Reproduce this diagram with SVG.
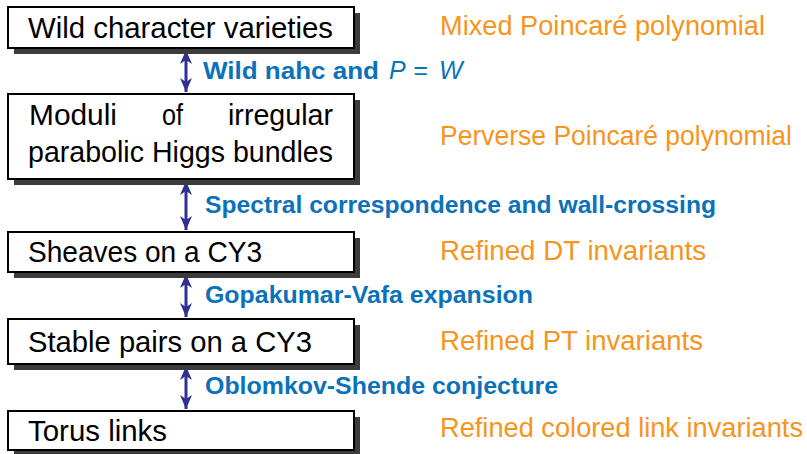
<svg xmlns="http://www.w3.org/2000/svg" width="807" height="454" viewBox="0 0 807 454">
  <style>
    .shadow { fill: #3c3c3c; }
    .box { fill: #ffffff; stroke: #000000; stroke-width: 2; }
    .name { font-family: "Liberation Sans", Arial, sans-serif; font-size: 30px; fill: #000000; }
    .inv { font-family: "Liberation Sans", Arial, sans-serif; font-size: 27px; fill: #F7941E; }
    .lbl { font-family: "Liberation Sans", Arial, sans-serif; font-size: 23.5px; font-weight: bold; fill: #0B72BA; }
    .math { font-family: "Liberation Sans", Arial, sans-serif; font-size: 25px; font-style: italic; font-weight: normal; fill: #0B72BA; }
    .link { stroke: #2E3192; stroke-width: 3; fill: none; marker-start: url(#head); marker-end: url(#head); }
  </style>
  <defs>
    <marker id="head" viewBox="0 0 14 12" markerUnits="userSpaceOnUse" markerWidth="14" markerHeight="12" refX="14" refY="6" orient="auto-start-reverse">
      <path d="M0,0 L14,6 L0,12 L4,6 z" fill="#2E3192"/>
    </marker>
  </defs>

  <!-- double-headed links between the stacked frames, with their labels -->
  <g id="connectors">
    <line class="link" x1="186" y1="50" x2="186" y2="92"/>
    <line class="link" x1="186" y1="181" x2="186" y2="230"/>
    <line class="link" x1="186" y1="274" x2="186" y2="317"/>
    <line class="link" x1="186" y1="366" x2="186" y2="409"/>
    <text class="lbl" x="203" y="79" textLength="176" lengthAdjust="spacingAndGlyphs">Wild nahc and</text>
    <text class="math" x="389" y="79">P</text>
    <text class="math" x="413" y="79" font-style="normal">=</text>
    <text class="math" x="439" y="79">W</text>
    <text class="lbl" x="205" y="213" textLength="511" lengthAdjust="spacingAndGlyphs">Spectral correspondence and wall-crossing</text>
    <text class="lbl" x="205" y="303" textLength="328" lengthAdjust="spacingAndGlyphs">Gopakumar-Vafa expansion</text>
    <text class="lbl" x="205" y="394" textLength="353" lengthAdjust="spacingAndGlyphs">Oblomkov-Shende conjecture</text>
  </g>

  <!-- frames: white box with offset drop shadow, and the invariant on the right -->
  <g id="wild-character-varieties">
    <rect class="shadow" x="14" y="13" width="346" height="41"/>
    <rect class="box" x="8" y="7" width="346" height="41"/>
    <text class="name" x="28" y="38" textLength="305" lengthAdjust="spacingAndGlyphs">Wild character varieties</text>
    <text class="inv" x="440" y="35" textLength="325" lengthAdjust="spacingAndGlyphs">Mixed Poincaré polynomial</text>
  </g>

  <g id="higgs-moduli">
    <rect class="shadow" x="14" y="100" width="346" height="85"/>
    <rect class="box" x="8" y="94" width="346" height="85"/>
    <text class="name" x="29" y="125" textLength="88" lengthAdjust="spacingAndGlyphs">Moduli</text>
    <text class="name" x="162" y="125" textLength="21" lengthAdjust="spacingAndGlyphs">of</text>
    <text class="name" x="228" y="125" textLength="105" lengthAdjust="spacingAndGlyphs">irregular</text>
    <text class="name" x="28" y="162" textLength="305" lengthAdjust="spacingAndGlyphs">parabolic Higgs bundles</text>
    <text class="inv" x="440" y="145" textLength="352" lengthAdjust="spacingAndGlyphs">Perverse Poincaré polynomial</text>
  </g>

  <g id="sheaves-cy3">
    <rect class="shadow" x="14" y="238" width="346" height="40"/>
    <rect class="box" x="8" y="232" width="346" height="40"/>
    <text class="name" x="28" y="262" textLength="234" lengthAdjust="spacingAndGlyphs">Sheaves on a CY3</text>
    <text class="inv" x="440" y="260" textLength="266" lengthAdjust="spacingAndGlyphs">Refined DT invariants</text>
  </g>

  <g id="stable-pairs-cy3">
    <rect class="shadow" x="14" y="325" width="346" height="45"/>
    <rect class="box" x="8" y="319" width="346" height="45"/>
    <text class="name" x="28" y="352" textLength="284" lengthAdjust="spacingAndGlyphs">Stable pairs on a CY3</text>
    <text class="inv" x="440" y="350" textLength="263" lengthAdjust="spacingAndGlyphs">Refined PT invariants</text>
  </g>

  <g id="torus-links">
    <rect class="shadow" x="14" y="417" width="346" height="39"/>
    <rect class="box" x="8" y="411" width="346" height="39"/>
    <text class="name" x="28" y="441" textLength="139" lengthAdjust="spacingAndGlyphs">Torus links</text>
    <text class="inv" x="440" y="437" textLength="363" lengthAdjust="spacingAndGlyphs">Refined colored link invariants</text>
  </g>
</svg>
